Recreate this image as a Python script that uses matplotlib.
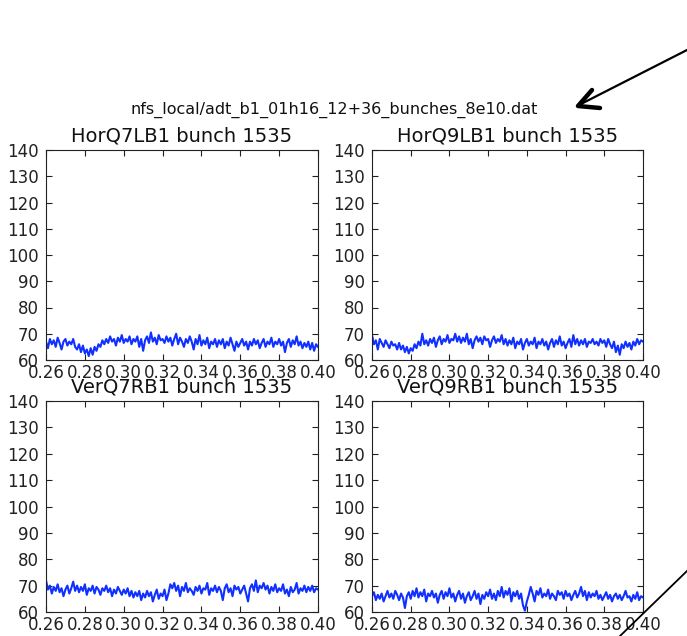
import numpy as np
import matplotlib
matplotlib.use('Agg')
import matplotlib.pyplot as plt
from matplotlib.lines import Line2D

data_file = 'nfs_local/adt_b1_01h16_12+36_bunches_8e10.dat'
bunch = 1535
pickups = ['HorQ7LB1', 'HorQ9LB1', 'VerQ7RB1', 'VerQ9RB1']

# turn window shown (s)
t_start, t_stop = 0.26, 0.40

hor_q7 = [
    67, 64.5, 68, 66, 67.5, 65, 68.5, 66.5, 64, 67, 68, 65.5, 67, 66, 68,
    65, 64, 66, 63, 65.5, 62.5, 64, 61.5, 64.5, 62, 65, 63.5, 66, 65, 67.5,
    66, 68, 66.5, 69, 67, 68, 65.5, 68.5, 67, 69.5, 66.5, 68, 67, 69, 66,
    68, 67, 69, 65, 68, 63.5, 67.5, 69, 66.5, 70.5, 67, 68.5, 66, 69.5, 67.5,
    68, 66.5, 69, 67, 68.5, 65.5, 68, 70, 66, 68.5, 67, 65, 68, 66.5, 69,
    67, 64, 68, 66, 69.5, 65.5, 67.5, 66, 68.5, 64.5, 67, 66, 68, 65, 67.5,
    66, 68, 64.5, 67, 65.5, 68.5, 66, 63.5, 67, 65, 66.5, 68, 65.5, 67, 64,
    67, 65.5, 68, 66, 67.5, 64.5, 66.5, 68, 65, 67, 66, 68.5, 65, 67, 66,
    68, 65.5, 67, 63, 66.5, 68, 65, 67.5, 66, 69, 65.5, 67, 64.5, 66.5, 65,
    67, 64, 66.5, 63.5, 66, 65,
]

hor_q9 = [
    69.5, 66, 67.5, 64, 68, 66.5, 65, 67.5, 66, 64.5, 67, 65.5, 66, 64, 66.5,
    64, 65.5, 63, 65, 62.5, 64.5, 63.5, 66, 64.5, 67, 65.5, 70, 66, 67.5, 65.5,
    68, 66.5, 68.5, 65, 67.5, 69, 66, 68, 67, 69.5, 66.5, 68, 67.5, 70, 67,
    69, 66.5, 68.5, 67, 70, 66, 68, 64.5, 67.5, 69, 67, 68.5, 66, 69, 67.5,
    68, 65, 67.5, 69, 66.5, 68, 67, 69.5, 66, 68, 65.5, 67.5, 66, 68.5, 64.5,
    67, 66, 68, 64, 66.5, 68, 65.5, 67, 66, 68.5, 64.5, 67, 66, 68, 65.5,
    67, 64, 66.5, 68, 65, 67.5, 66, 69, 65.5, 67, 64.5, 66.5, 68, 65, 69.5,
    66, 68, 65.5, 67.5, 66, 68, 65, 67, 66.5, 68, 66, 67, 65.5, 68, 66.5,
    67.5, 65, 68, 66, 64.5, 67, 63, 65.5, 62, 66, 64.5, 67, 65, 66.5, 64,
    67, 65.5, 68, 66, 67.5, 67,
]

ver_q7 = [
    72, 68.5, 70, 67, 69.5, 68, 70.5, 67.5, 69, 66, 68.5, 70, 67, 69, 71.5,
    68, 70, 67.5, 69.5, 68, 70.5, 66.5, 69, 68, 70, 67, 69.5, 68.5, 66.5, 69,
    68, 70, 67.5, 69, 66, 68.5, 67, 69.5, 68, 66.5, 68.5, 67, 69, 66, 68,
    65.5, 67.5, 66, 68, 64.5, 67, 65.5, 68, 66, 67.5, 64, 66.5, 68.5, 65, 67,
    66, 68.5, 64.5, 67, 70.5, 69, 71, 68, 70, 66, 69.5, 68, 71, 67.5, 69,
    68, 66.5, 69.5, 68, 70, 67, 69, 68.5, 71, 66.5, 69, 68, 70, 67.5, 69.5,
    68, 64.5, 69, 70.5, 67.5, 69, 66, 70, 68.5, 69.5, 67, 68.5, 70, 67, 64,
    69, 70.5, 68, 72, 67.5, 70, 69, 71, 68.5, 70, 67, 69.5, 68, 70.5, 67.5,
    69, 68, 70.5, 67, 68.5, 66, 69.5, 67.5, 68.5, 71, 67, 69, 68, 70, 67.5,
    69.5, 68, 70, 67.5, 69, 68.5,
]

ver_q9 = [
    66, 67.5, 64.5, 66.5, 65, 67, 64, 66, 68, 65.5, 67, 65, 68, 66.5, 64.5,
    67, 65.5, 61.5, 66, 67.5, 65, 68, 66, 69, 65.5, 67.5, 66, 68.5, 64, 67,
    66, 68, 65.5, 67, 63.5, 66.5, 68, 65, 67.5, 66, 69, 65.5, 67, 64, 66.5,
    68, 65, 67, 63.5, 66, 67.5, 64.5, 66, 68, 65, 67, 63, 66.5, 65, 67.5,
    66, 68.5, 65, 67, 64.5, 68, 66, 69.5, 65.5, 68, 66.5, 69, 64, 67.5, 66,
    68, 65, 67, 62.5, 60.5, 64, 66.5, 69.5, 67, 64, 68, 66.5, 69, 65.5, 67,
    66, 68.5, 65, 67, 66, 64.5, 68, 66.5, 67.5, 65, 68, 66, 67, 64.5, 66.5,
    68, 65.5, 67, 69.5, 66, 68, 64.5, 67.5, 65.5, 67, 66, 68, 65, 66.5, 64.5,
    66, 67.5, 65, 66.5, 64, 66, 67, 65, 66.5, 64.5, 66, 68, 65.5, 66, 64,
    66.5, 65, 67.5, 64.5, 66, 65.5,
]

traces = [hor_q7, hor_q9, ver_q7, ver_q9]

W, H = 687, 636
fig = plt.figure(figsize=(W / 100, H / 100), dpi=100, facecolor='white')


def px(x, y):
    return x / W, 1 - y / H


# axes boxes in pixels: left, top, right, bottom
boxes = [(46, 150, 318, 360), (372, 150, 643, 360),
         (46, 401, 318, 612), (372, 401, 643, 612)]

for name, vals, (l, t, r, b) in zip(pickups, traces, boxes):
    ax = fig.add_axes([l / W, 1 - b / H, (r - l) / W, (b - t) / H])
    t_axis = np.linspace(t_start, t_stop, len(vals))
    ax.plot(t_axis, vals, color='#1030ff', lw=1.5)
    ax.set_xlim(t_start, t_stop)
    ax.set_ylim(60, 140)
    ax.set_xticks(np.arange(0.26, 0.401, 0.02))
    ax.set_xticklabels(['%.2f' % v for v in np.arange(0.26, 0.401, 0.02)])
    ax.set_yticks(range(60, 141, 10))
    ax.tick_params(direction='in', top=True, right=True, length=4,
                   labelsize=12, pad=3, colors='#222222')
    ax.tick_params(axis='y', pad=5)
    for s in ax.spines.values():
        s.set_color('#222222')
    ax.set_title('%s bunch %d' % (name, bunch), fontsize=14, pad=6,
                 color='#111111')

fig.text(*px(334, 110), data_file, ha='center', va='center', fontsize=11.5,
         color='#111111')

# pen marks: arrow pointing at the file name and a stroke at bottom right
fig.add_artist(Line2D(*zip(px(687, 50), px(579, 105)),
                      transform=fig.transFigure, color='black', lw=1.6))
fig.add_artist(Line2D(*zip(px(592, 90), px(578, 106), px(600, 108)),
                      transform=fig.transFigure, color='black', lw=3.2,
                      solid_capstyle='round', solid_joinstyle='round'))
fig.add_artist(Line2D(*zip(px(687, 571), px(620, 636)),
                      transform=fig.transFigure, color='black', lw=1.3))

fig.savefig('out.png', dpi=100, facecolor='white')
